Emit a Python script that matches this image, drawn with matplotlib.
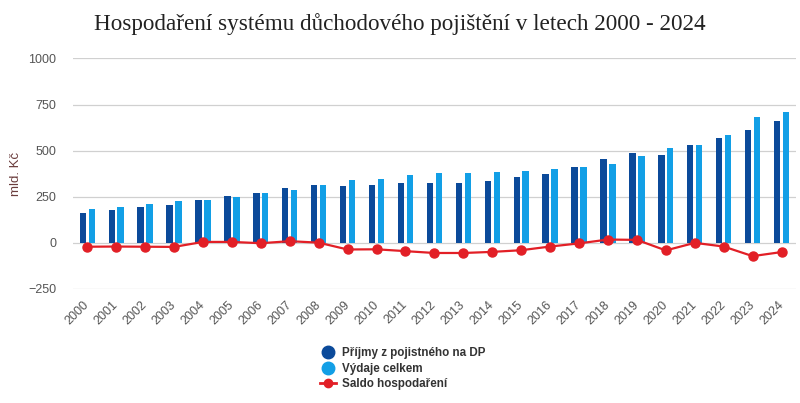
import numpy as np
import matplotlib
matplotlib.use('Agg')
import matplotlib.pyplot as plt
from matplotlib.lines import Line2D

# === DATA ===
years = [str(y) for y in range(2000, 2025)]
prijmy = [163, 177, 192, 203, 235, 255, 271, 300, 311, 307, 313, 322, 327, 327,
          335, 358, 374, 409, 454, 486, 476, 528, 568, 613, 660]
vydaje = [184, 197, 208, 226, 230, 250, 271, 288, 311, 340, 345, 369, 380, 380,
          383, 391, 398, 412, 430, 470, 517, 528, 584, 682, 710]
saldo = [-21, -20, -21, -22, 5, 5, -2, 9, 1, -36, -35, -45, -55, -55,
         -49, -40, -20, -3, 18, 16, -41, 0, -20, -72, -50]

# === STYLE ===
DARK = '#0b4a9a'
LIGHT = '#129fe6'
RED = '#e21f26'
plt.rcParams['font.family'] = ['Liberation Sans', 'DejaVu Sans']

fig = plt.figure(figsize=(8, 4.03), dpi=100)
ax = fig.add_axes([0.091, 0.283, 0.904, 0.572])

x = np.arange(len(years))
w = 0.22
ax.bar(x - 0.155, prijmy, width=w, color=DARK, zorder=2)
ax.bar(x + 0.155, vydaje, width=w, color=LIGHT, zorder=2)
ax.plot(x, saldo, color=RED, lw=1.6, marker='o', ms=6.5, zorder=3)

ax.set_xlim(-0.5, len(years) - 0.5)
ax.set_ylim(-250, 1000)
ax.set_yticks([-250, 0, 250, 500, 750, 1000])
ax.set_xticks(x)
ax.set_xticklabels(years, rotation=45, ha='right', va='center', rotation_mode='anchor')
ax.tick_params(axis='both', length=0, labelsize=9, colors='#555555')
ax.tick_params(axis='y', pad=12)
ax.tick_params(axis='x', pad=10)
ax.grid(axis='y', color='#d0d0d0', lw=0.9, zorder=0)
for s in ax.spines.values():
    s.set_visible(False)
ax.set_ylabel('mld. Kč', color='#6a3c3c', fontsize=9.5, labelpad=4)

fig.text(0.5, 0.94, 'Hospodaření systému důchodového pojištění v letech 2000 - 2024',
         ha='center', va='center', fontsize=16.7, family='Liberation Serif', color='#222222')

handles = [
    Line2D([], [], ls='none', marker='o', ms=9, color=DARK),
    Line2D([], [], ls='none', marker='o', ms=9, color=LIGHT),
    Line2D([], [], color=RED, lw=2, marker='o', ms=6),
]
labels = ['Příjmy z pojistného na DP', 'Výdaje celkem', 'Saldo hospodaření']
leg = fig.legend(handles, labels, loc='center', bbox_to_anchor=(0.503, 0.085), frameon=False,
                 handlelength=1.4, handletextpad=0.5, labelspacing=0.3,
                 prop={'weight': 'bold', 'size': 8.4})
for t in leg.get_texts():
    t.set_color('#333333')

fig.savefig('out.png', dpi=100)
